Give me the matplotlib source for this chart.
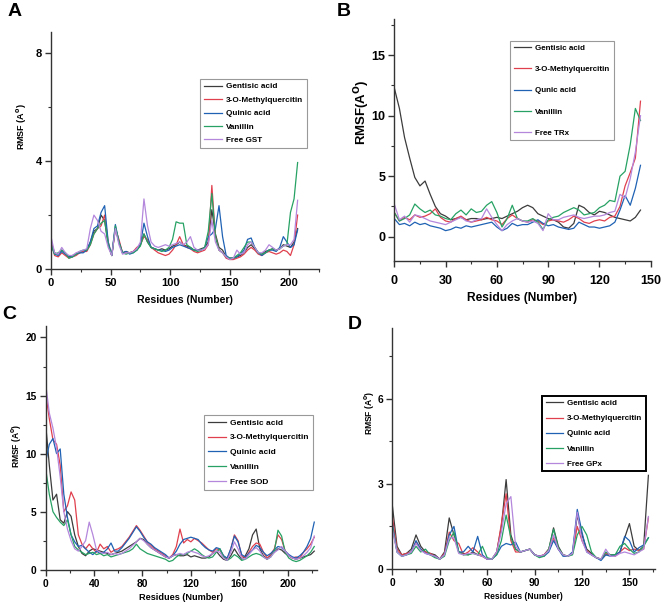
import numpy as np
import matplotlib
matplotlib.use("Agg")
import matplotlib.pyplot as plt
from matplotlib import font_manager
from matplotlib.ticker import MultipleLocator

plt.rcParams["font.family"] = ["Liberation Sans", "DejaVu Sans"]
plt.rcParams["font.weight"] = "bold"

# panels B-D use a condensed face in the original
_names = {f.name for f in font_manager.fontManager.ttflist}
HAS_NARROW = "Liberation Sans Narrow" in _names
NARROW = ["Liberation Sans Narrow", "Liberation Sans"] if HAS_NARROW else ["Liberation Sans"]
NK = 1.0 if HAS_NARROW else 0.82   # shrink sizes when no narrow face

COLORS = ["#3c3c3c", "#e0404e", "#1f62b4", "#27a264", "#b487dc"]

# ---- panel A: GST ----
a_res = np.arange(0, 208, 3)
a_labels = ["Gentisic acid", "3-O-Methylquercitin", "Quinic acid", "Vanillin", "Free GST"]
a_gentisic = [1.0, 0.6, 0.55, 0.7, 0.6, 0.45, 0.5, 0.55, 0.6, 0.65,
              0.7, 1.0, 1.4, 1.5, 2.0, 1.8, 0.9, 0.5, 1.5, 1.0,
              0.6, 0.65, 0.6, 0.65, 0.7, 0.9, 1.3, 1.0, 0.8, 0.75,
              0.7, 0.75, 0.7, 0.75, 0.85, 0.9, 1.0, 0.9, 0.85, 0.8,
              0.7, 0.7, 0.75, 0.8, 1.0, 2.2, 1.3, 0.8, 0.7, 0.45,
              0.4, 0.4, 0.45, 0.5, 0.6, 0.8, 0.9, 0.75, 0.6, 0.55,
              0.65, 0.7, 0.75, 0.7, 0.75, 0.9, 0.85, 0.8, 1.0, 1.5]
a_methyl = [1.0, 0.5, 0.45, 0.6, 0.5, 0.4, 0.45, 0.5, 0.6, 0.65,
            0.65, 0.9, 1.3, 1.5, 1.6, 2.0, 1.0, 0.5, 1.5, 1.1,
            0.6, 0.6, 0.6, 0.65, 0.8, 0.9, 1.2, 1.1, 0.8, 0.7,
            0.6, 0.55, 0.5, 0.55, 0.7, 0.9, 1.2, 0.9, 0.8, 0.75,
            0.65, 0.6, 0.65, 0.7, 0.9, 3.1, 1.2, 0.7, 0.6, 0.4,
            0.35, 0.35, 0.4, 0.45, 0.55, 0.7, 0.8, 0.7, 0.55, 0.5,
            0.6, 0.65, 0.6, 0.55, 0.6, 0.7, 0.65, 0.5, 0.9, 2.0]
a_quinic = [0.9, 0.55, 0.5, 0.65, 0.55, 0.45, 0.45, 0.55, 0.6, 0.6,
            0.7, 1.0, 1.5, 1.6, 2.1, 2.35, 1.0, 0.5, 1.65, 1.0,
            0.6, 0.65, 0.55, 0.6, 0.7, 0.9, 1.7, 1.2, 0.8, 0.75,
            0.7, 0.7, 0.65, 0.7, 0.8, 0.85, 0.9, 0.85, 0.8, 0.75,
            0.7, 0.7, 0.7, 0.8, 1.2, 1.3, 1.5, 2.35, 1.2, 0.5,
            0.4, 0.4, 0.45, 0.55, 0.7, 1.1, 1.15, 0.8, 0.6, 0.5,
            0.6, 0.7, 0.7, 0.65, 0.8, 1.2, 1.0, 0.8, 0.9, 1.45]
a_vanillin = [0.9, 0.55, 0.6, 0.7, 0.6, 0.4, 0.45, 0.55, 0.65, 0.7,
              0.7, 0.9, 1.3, 1.5, 1.7, 1.8, 0.9, 0.5, 1.6, 1.0,
              0.6, 0.55, 0.6, 0.6, 0.7, 0.85, 1.3, 1.0, 0.8, 0.75,
              0.7, 0.65, 0.7, 0.8, 1.1, 1.75, 1.7, 1.7, 0.9, 0.8,
              0.7, 0.65, 0.7, 0.8, 1.4, 2.8, 1.2, 0.7, 0.6, 0.45,
              0.4, 0.4, 0.5, 0.6, 0.8, 1.0, 1.0, 0.8, 0.6, 0.55,
              0.6, 0.7, 0.75, 0.7, 0.75, 0.85, 0.9, 2.1, 2.6, 3.95]
a_free = [1.2, 0.6, 0.55, 0.8, 0.6, 0.5, 0.5, 0.6, 0.65, 0.7,
          0.75, 1.5, 2.0, 1.8, 1.4, 1.3, 0.8, 0.5, 1.5, 0.9,
          0.55, 0.6, 0.6, 0.65, 0.75, 1.0, 2.6, 1.6, 1.0, 0.85,
          0.8, 0.85, 0.9, 0.85, 0.9, 0.95, 1.0, 0.9, 1.0, 1.2,
          0.8, 0.7, 0.7, 0.75, 0.9, 1.8, 1.0, 0.7, 0.6, 0.45,
          0.35, 0.4, 0.7, 0.55, 0.6, 0.9, 1.0, 0.8, 0.6, 0.6,
          0.7, 0.9, 0.8, 0.7, 0.75, 0.85, 0.9, 0.9, 1.1, 2.55]

# ---- panel B: TRx ----
b_res = np.arange(0, 145, 3)
b_labels = ["Gentisic acid", "3-O-Methylquercitin", "Qunic acid", "Vanillin", "Free TRx"]
b_gentisic = [12.3, 10.6, 8.2, 6.5, 4.9, 4.2, 4.6, 3.5, 2.5, 1.9,
              1.7, 1.4, 1.5, 1.6, 1.4, 1.5, 1.5, 1.4, 1.5, 1.5,
              1.6, 1.5, 1.7, 1.9, 2.1, 2.4, 2.6, 2.4, 1.9, 1.7,
              1.5, 1.4, 1.2, 0.8, 0.7, 1.1, 2.6, 2.4, 2.0, 1.8,
              2.1, 2.0, 1.8, 1.6, 1.5, 1.4, 1.3, 1.6, 2.2]
b_methyl = [2.0, 1.3, 1.6, 1.4, 1.8, 1.6, 1.7, 1.9, 2.3, 1.6,
            1.3, 1.2, 1.5, 1.7, 1.4, 1.2, 1.3, 1.4, 1.6, 1.4,
            1.3, 1.0, 1.5, 1.8, 1.5, 1.3, 1.2, 1.4, 1.3, 1.0,
            1.3, 1.4, 1.3, 1.2, 1.4, 1.7, 1.5, 1.2, 1.1, 1.3,
            1.4, 1.3, 1.6, 1.7, 2.5, 4.2, 5.3, 6.5, 11.2]
b_quinic = [1.5, 1.0, 1.1, 0.9, 1.2, 1.0, 1.1, 0.9, 0.8, 0.7,
            0.5, 0.6, 0.8, 0.7, 0.9, 0.8, 0.9, 1.0, 1.1, 1.2,
            0.8, 0.5, 0.7, 1.1, 0.9, 1.0, 1.0, 1.2, 1.4, 1.1,
            0.9, 1.0, 0.8, 0.7, 0.6, 0.7, 1.2, 1.0, 0.8, 0.8,
            0.7, 0.8, 0.9, 1.2, 2.2, 3.4, 2.6, 4.0, 5.9]
b_vanillin = [2.0, 1.3, 1.5, 1.8, 2.7, 2.3, 2.0, 2.2, 1.8, 1.7,
              1.5, 1.4, 1.9, 2.2, 1.8, 2.3, 2.0, 2.1, 2.6, 2.9,
              2.0, 0.8, 1.5, 2.6, 1.5, 1.3, 1.3, 1.5, 1.2, 0.6,
              1.4, 1.6, 1.7, 2.0, 2.2, 2.4, 2.2, 1.8, 1.9, 2.0,
              2.4, 2.6, 3.0, 2.9, 5.0, 5.4, 7.6, 10.6, 9.6]
b_free = [2.7, 1.4, 1.7, 1.2, 1.8, 1.7, 1.5, 1.3, 1.2, 1.1,
          1.0, 1.2, 1.4, 1.6, 1.3, 1.2, 1.4, 1.5, 2.3, 1.6,
          1.0, 0.5, 1.0, 1.3, 1.5, 1.3, 1.2, 1.3, 1.1, 0.5,
          1.9, 1.4, 1.4, 1.6, 1.7, 1.8, 1.6, 1.5, 1.6, 1.7,
          1.7, 1.8, 2.0, 2.1, 3.5, 3.2, 4.8, 7.0, 10.0]

# ---- panel C: SOD ----
c_res = np.arange(0, 223, 3)
c_labels = ["Gentisic acid", "3-O-Methylquercitin", "Quinic acid", "Vanillin", "Free SOD"]
c_gentisic = [12.5, 9.0, 6.0, 6.5, 4.3, 4.0, 5.0, 4.6, 3.0, 2.0,
              1.4, 1.2, 1.6, 1.8, 1.7, 1.6, 1.5, 1.4, 1.3, 1.4,
              1.5, 1.6, 1.8, 2.0, 2.2, 2.4, 2.7, 2.6, 2.2, 1.9,
              1.7, 1.5, 1.3, 1.1, 1.0, 1.2, 1.3, 1.2, 1.2, 1.3,
              1.1, 1.2, 1.1, 1.0, 1.0, 1.1, 1.4, 1.6, 1.2, 0.9,
              0.8, 1.2, 1.8, 1.3, 0.9, 1.2, 1.8, 3.0, 3.5, 1.8,
              1.2, 0.9, 1.2, 1.5, 1.8, 1.7, 1.4, 1.2, 1.0, 0.9,
              1.0, 1.1, 1.2, 1.3, 1.6]
c_methyl = [15.2, 13.0, 11.2, 10.8, 9.0, 5.0, 5.5, 6.7, 6.0, 3.0,
            2.2, 1.8, 2.2, 1.8, 1.5, 2.2, 1.8, 2.0, 1.5, 1.7,
            1.8, 2.0, 2.4, 2.8, 3.3, 3.8, 3.4, 2.9, 2.4, 2.1,
            1.8, 1.6, 1.4, 1.2, 1.0, 1.3, 2.0, 3.5, 2.3, 2.6,
            2.4, 2.7, 2.5, 2.3, 2.0, 1.7, 1.5, 1.8, 1.7, 1.2,
            0.9, 1.8, 3.0, 2.5, 1.2, 1.0, 1.5, 2.0, 2.3, 2.2,
            1.5, 1.0, 1.3, 1.8, 3.0, 2.6, 1.6, 1.2, 1.0, 1.1,
            1.0, 1.5, 1.8, 2.2, 2.8]
c_quinic = [9.3, 10.8, 11.3, 10.0, 10.4, 6.5, 4.5, 3.0, 2.4, 2.0,
            2.1, 1.8, 1.5, 1.3, 1.6, 1.4, 1.5, 1.8, 2.3, 1.6,
            1.6, 1.9, 2.3, 2.7, 3.2, 3.7, 3.3, 2.8, 2.4, 2.2,
            1.9, 1.7, 1.5, 1.3, 1.0, 1.2, 1.6, 2.2, 2.6, 2.7,
            2.8, 2.7, 2.6, 2.2, 1.9, 1.7, 1.6, 1.9, 1.8, 1.2,
            1.0, 1.8, 2.9, 2.4, 1.3, 1.1, 1.4, 1.7, 2.1, 1.9,
            1.5, 1.2, 1.4, 1.7, 2.0, 1.9, 1.6, 1.3, 1.1, 1.0,
            1.2, 1.5, 2.0, 2.7, 4.1]
c_vanillin = [8.7, 6.5, 5.0, 4.5, 4.1, 3.8, 4.3, 3.0, 2.0, 1.7,
              1.5, 1.3, 1.4, 1.5, 1.3, 1.4, 1.2, 1.3, 1.1, 1.2,
              1.3, 1.4, 1.5, 1.6, 1.8, 2.2, 1.8, 1.6, 1.4, 1.3,
              1.2, 1.1, 1.0, 0.9, 0.7, 0.8, 1.1, 1.3, 1.3, 1.4,
              1.6, 1.8, 1.6, 1.3, 1.1, 1.0, 1.1, 1.5, 1.8, 1.1,
              0.8, 1.0, 1.3, 1.1, 0.8, 0.9, 1.1, 1.3, 1.4, 1.3,
              1.1, 0.9, 1.1, 1.6, 3.4, 2.9, 1.5, 1.0, 0.8, 0.7,
              0.8, 1.0, 1.2, 1.5, 2.0]
c_free = [16.0, 13.5, 12.2, 10.5, 8.0, 5.0, 3.5, 2.5, 1.8, 1.6,
          2.0, 2.5, 4.1, 3.0, 1.7, 1.5, 1.4, 1.5, 1.3, 1.4,
          1.3, 1.4, 1.6, 1.8, 2.1, 2.4, 2.7, 2.5, 2.2, 1.9,
          1.7, 1.5, 1.3, 1.1, 1.0, 1.2, 1.3, 1.4, 1.3, 1.5,
          1.6, 1.5, 1.4, 1.2, 1.1, 1.2, 1.4, 1.6, 1.5, 1.0,
          0.8, 1.5, 2.4, 1.8, 1.0, 0.9, 1.3, 1.7, 1.9, 1.6,
          1.1, 0.9, 1.1, 1.5, 1.7, 2.0, 1.6, 1.2, 1.0, 0.9,
          1.0, 1.2, 1.5, 1.9, 2.9]

# ---- panel D: GPx ----
d_res = np.arange(0, 163, 3)
d_labels = ["Gentisic acid", "3-O-Methylquercitin", "Quinic acid", "Vanillin", "Free GPx"]
d_gentisic = [2.25, 0.8, 0.5, 0.55, 0.7, 1.2, 0.8, 0.6, 0.55, 0.5,
              0.35, 0.6, 1.8, 1.2, 0.6, 0.55, 0.5, 0.6, 0.5, 0.45,
              0.35, 0.35, 0.6, 1.5, 3.15, 1.2, 0.7, 0.6, 0.65, 0.7,
              0.5, 0.45, 0.5, 0.7, 1.45, 0.8, 0.5, 0.45, 0.55, 1.9,
              1.2, 0.7, 0.55, 0.4, 0.35, 0.5, 0.5, 0.5, 0.6, 1.1,
              1.6, 0.8, 0.65, 0.8, 3.3]
d_methyl = [1.85, 0.7, 0.5, 0.55, 0.6, 0.95, 0.7, 0.6, 0.55, 0.45,
            0.35, 0.55, 1.3, 1.0, 0.9, 0.5, 0.6, 0.75, 0.6, 0.45,
            0.35, 0.35, 0.55, 1.6, 2.65, 1.0, 0.6, 0.6, 0.65, 0.7,
            0.5, 0.45, 0.5, 0.7, 1.1, 0.7, 0.5, 0.45, 0.55, 1.5,
            1.0, 0.65, 0.5, 0.4, 0.35, 0.55, 0.5, 0.45, 0.6, 0.75,
            0.65, 0.7, 0.65, 0.7, 1.8]
d_quinic = [1.6, 0.6, 0.45, 0.5, 0.6, 1.0, 0.7, 0.55, 0.5, 0.45,
            0.35, 0.5, 1.2, 1.5, 0.6, 0.6, 0.8, 0.6, 1.15, 0.5,
            0.35, 0.35, 0.5, 0.8, 0.9, 0.85, 0.95, 0.6, 0.65, 0.7,
            0.5, 0.45, 0.45, 0.6, 1.0, 0.7, 0.45, 0.45, 0.6, 2.1,
            1.3, 0.6, 0.5, 0.4, 0.3, 0.5, 0.45, 0.5, 0.6, 1.15,
            1.0, 0.6, 0.75, 0.85, 1.1]
d_vanillin = [1.5, 0.6, 0.45, 0.5, 0.55, 0.8, 0.6, 0.7, 0.5, 0.4,
              0.35, 0.45, 1.0, 1.3, 0.6, 0.5, 0.5, 0.55, 0.5, 0.8,
              0.4, 0.35, 0.5, 1.0, 1.9, 1.1, 0.7, 0.6, 0.65, 0.7,
              0.5, 0.4, 0.45, 0.7, 1.4, 0.75, 0.5, 0.45, 0.5, 1.2,
              1.5, 1.2, 0.6, 0.4, 0.35, 0.6, 0.5, 0.5, 0.8, 0.9,
              0.7, 0.55, 0.6, 0.8, 1.1]
d_free = [1.4, 0.6, 0.45, 0.5, 0.6, 0.9, 0.65, 0.55, 0.5, 0.45,
          0.35, 0.5, 1.1, 1.1, 0.55, 0.5, 0.55, 0.55, 0.5, 0.45,
          0.35, 0.35, 0.6, 1.3, 2.3, 2.55, 0.8, 0.6, 0.65, 0.7,
          0.5, 0.45, 0.5, 0.65, 1.2, 0.7, 0.5, 0.45, 0.55, 2.0,
          1.0, 0.6, 0.5, 0.4, 0.35, 0.7, 0.45, 0.45, 0.55, 0.6,
          0.55, 0.5, 0.6, 0.7, 1.85]


def panel(fig, rect, res, series, labels, xlim, ylim, xmaj, xmin, ymaj, ymin,
          ylabel, ylab_xy, leg_xy, family, tick_fs, xlab_fs, ylab_fs, leg_fs,
          leg_space, tick_pad=2.5, xlab_pad=3, leg_edge="#999999", leg_lw=0.8):
    ax = fig.add_axes(rect)
    for vals, lab, col in zip(series, labels, COLORS):
        ax.plot(res, vals, color=col, lw=0.9, label=lab)
    ax.set_xlim(*xlim)
    ax.set_ylim(*ylim)
    ax.xaxis.set_major_locator(MultipleLocator(xmaj))
    ax.xaxis.set_minor_locator(MultipleLocator(xmin))
    ax.yaxis.set_major_locator(MultipleLocator(ymaj))
    ax.yaxis.set_minor_locator(MultipleLocator(ymin))
    for s in ["top", "right"]:
        ax.spines[s].set_visible(False)
    for s in ["left", "bottom"]:
        ax.spines[s].set_color("#333333")
        ax.spines[s].set_linewidth(1.0)
    ax.tick_params(which="major", length=4, width=1, color="#333333", pad=2.5)
    ax.tick_params(axis="x", which="major", pad=tick_pad)
    ax.tick_params(which="minor", length=2.5, width=0.8, color="#333333")
    for t in ax.get_xticklabels() + ax.get_yticklabels():
        t.set_fontweight("bold")
        t.set_fontsize(tick_fs)
        t.set_family(family)
    ax.set_xlabel("Residues (Number)", fontsize=xlab_fs, fontweight="bold",
                  family=family, labelpad=xlab_pad)
    ax.set_ylabel(ylabel, fontsize=ylab_fs, fontweight="bold", family=family)
    ax.yaxis.set_label_coords(*ylab_xy)
    leg = ax.legend(loc="upper left", bbox_to_anchor=leg_xy, bbox_transform=fig.transFigure,
                    borderaxespad=0, fancybox=False, framealpha=1, handlelength=2.2,
                    handletextpad=0.5, labelspacing=leg_space, borderpad=0.45,
                    prop={"weight": "bold", "size": leg_fs, "family": family})
    leg.get_frame().set_edgecolor(leg_edge)
    leg.get_frame().set_linewidth(leg_lw)
    return ax


fig = plt.figure(figsize=(6.61, 6.08), dpi=100)
REG = ["Liberation Sans"]

panel(fig, [0.0772, 0.5576, 0.4055, 0.390], a_res,
      [a_gentisic, a_methyl, a_quinic, a_vanillin, a_free], a_labels,
      (0, 225), (0, 8.8), 50, 25, 4, 2, r"RMSF (A$^{\mathbf{0}}$)", (-0.082, 0.60),
      (0.3026, 0.870), REG, 8, 7.6, 6.5, 5.9, 0.7, xlab_pad=5)

panel(fig, [0.5965, 0.5709, 0.388, 0.398], b_res,
      [b_gentisic, b_methyl, b_quinic, b_vanillin, b_free], b_labels,
      (0, 150), (-2, 18), 30, 15, 5, 2.5, r"RMSF(A$^{\mathbf{O}}$)", (-0.088, 0.615),
      (0.7716, 0.9326), NARROW, 9, 10.5 * NK, 9.5, 7 * NK, 1.7,
      tick_pad=6, xlab_pad=4)

panel(fig, [0.0691, 0.063, 0.410, 0.401], c_res,
      [c_gentisic, c_methyl, c_quinic, c_vanillin, c_free], c_labels,
      (0, 224), (0, 21), 40, 20, 5, 2.5, r"RMSF (A$^{\mathbf{0}}$)", (-0.08, 0.507),
      (0.3086, 0.3174), NARROW, 9 * NK, 8 * NK, 7.5 * NK, 7.3 * NK, 0.85)

panel(fig, [0.5935, 0.0641, 0.397, 0.397], d_res,
      [d_gentisic, d_methyl, d_quinic, d_vanillin, d_free], d_labels,
      (0, 166), (0, 8.5), 30, 15, 3, 1.5, r"RMSF (A$^{\mathbf{0}}$)", (-0.058, 0.646),
      (0.820, 0.3487), NARROW, 9 * NK, 7.5 * NK, 7.5 * NK, 7 * NK, 0.95,
      leg_edge="black", leg_lw=1.4)

for letter, x, y in [("A", 0.012, 0.995), ("B", 0.509, 0.995), ("C", 0.003, 0.497), ("D", 0.526, 0.481)]:
    fig.text(x, y, letter, fontsize=14, fontweight="heavy", va="top", ha="left")

fig.savefig("out.png", dpi=100)
